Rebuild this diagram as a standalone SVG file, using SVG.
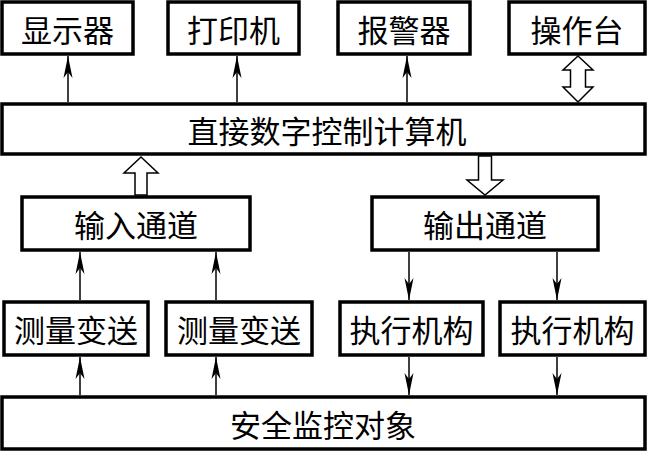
<svg xmlns="http://www.w3.org/2000/svg" width="649" height="452" viewBox="0 0 649 452">
<defs>
<style>
.box{fill:#fff;stroke:#000;stroke-width:3.5}
.t{font-family:"Noto Sans CJK SC","Noto Sans CJK JP",sans-serif;font-size:31px;fill:#000;text-anchor:middle;dominant-baseline:central}
.ln{stroke:#000;stroke-width:1.5;fill:none}
.hol{fill:#fff;stroke:#000;stroke-width:1.5;stroke-linejoin:miter}
</style>
<marker id="ah" markerWidth="22" markerHeight="10" refX="22" refY="5" orient="auto" markerUnits="userSpaceOnUse" viewBox="0 0 22 10">
<path d="M22,5 L0,0.5 L6,5 L0,9.5 Z" fill="#000"/>
</marker>
</defs>
<g id="n-display"><rect class="box" x="2" y="2" width="131" height="52"/><text class="t" x="67.5" y="28">显示器</text></g>
<g id="n-printer"><rect class="box" x="168" y="2" width="131" height="52"/><text class="t" x="233.5" y="28">打印机</text></g>
<g id="n-alarm"><rect class="box" x="338" y="2" width="132" height="52"/><text class="t" x="404" y="28">报警器</text></g>
<g id="n-console"><rect class="box" x="509" y="2" width="136" height="52"/><text class="t" x="577" y="28">操作台</text></g>
<g id="n-ddc"><rect class="box" x="2" y="104" width="643" height="50"/><text class="t" x="327" y="129">直接数字控制计算机</text></g>
<g id="n-in"><rect class="box" x="22" y="197" width="228" height="53"/><text class="t" x="136" y="223.5">输入通道</text></g>
<g id="n-out"><rect class="box" x="372" y="197" width="226" height="53"/><text class="t" x="485" y="223.5">输出通道</text></g>
<g id="n-m1"><rect class="box" x="4" y="302" width="144" height="53"/><text class="t" x="76" y="328.5">测量变送</text></g>
<g id="n-m2"><rect class="box" x="166" y="302" width="146" height="53"/><text class="t" x="239" y="328.5">测量变送</text></g>
<g id="n-a1"><rect class="box" x="340" y="302" width="143" height="53"/><text class="t" x="411.5" y="328.5">执行机构</text></g>
<g id="n-a2"><rect class="box" x="500" y="302" width="145" height="53"/><text class="t" x="572.5" y="328.5">执行机构</text></g>
<g id="n-obj"><rect class="box" x="2" y="397" width="643" height="52"/><text class="t" x="323" y="423">安全监控对象</text></g>
<g id="connectors">
<line class="ln" x1="68" y1="102" x2="68" y2="56" marker-end="url(#ah)"/>
<line class="ln" x1="237" y1="102" x2="237" y2="56" marker-end="url(#ah)"/>
<line class="ln" x1="407" y1="102" x2="407" y2="56" marker-end="url(#ah)"/>
<path class="hol" d="M578,56 L593,70 L585.5,70 L585.5,87 L593,87 L578,102 L563,87 L570.5,87 L570.5,70 L563,70 Z"/>
<path class="hol" d="M141,157 L158,173 L147,173 L147,195 L135,195 L135,173 L124,173 Z"/>
<path class="hol" d="M478.5,156 L491.5,156 L491.5,180 L503,180 L485,195 L467,180 L478.5,180 Z"/>
<line class="ln" x1="80" y1="300" x2="80" y2="252" marker-end="url(#ah)"/>
<line class="ln" x1="216" y1="300" x2="216" y2="252" marker-end="url(#ah)"/>
<line class="ln" x1="409" y1="252" x2="409" y2="300" marker-end="url(#ah)"/>
<line class="ln" x1="557" y1="252" x2="557" y2="300" marker-end="url(#ah)"/>
<line class="ln" x1="80" y1="395" x2="80" y2="357" marker-end="url(#ah)"/>
<line class="ln" x1="216" y1="395" x2="216" y2="357" marker-end="url(#ah)"/>
<line class="ln" x1="409" y1="357" x2="409" y2="395" marker-end="url(#ah)"/>
<line class="ln" x1="557" y1="357" x2="557" y2="395" marker-end="url(#ah)"/>
</g>
</svg>
